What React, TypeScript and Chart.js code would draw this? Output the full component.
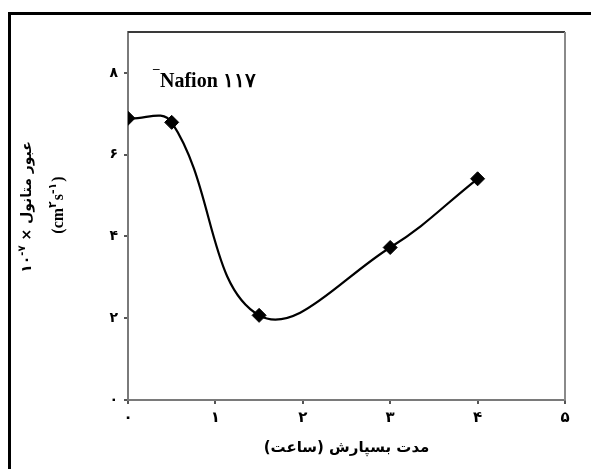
import React, { useEffect, useRef } from 'react';
import { Chart, registerables } from 'chart.js';

Chart.register(...registerables);

// ---- data ----
const hours = [0, 0.5, 1.5, 3, 4];
const permeability = [6.89, 6.79, 2.07, 3.73, 5.41];
const xTickValues = [0, 1, 2, 3, 4, 5];
const xTickLabels = ['۰', '۱', '۲', '۳', '۴', '۵'];
const yTickValues = [0, 2, 4, 6, 8];
const yTickLabels = ['۰', '۲', '۴', '۶', '۸'];
const xTitle = 'مدت بسپارش (ساعت)';
const yTitleWords = 'عبور متانول';
const yTitleTimes = ' × ';
const yTitleBase = '۱۰';
const yTitleExp = '-۷';
const yUnitParts = ['(cm', '۲', 's', '-۱', ')'];
const seriesMark = '¯';
const seriesLabel = 'Nafion ۱۱۷';

const PERSIAN = "'DejaVu Sans', sans-serif";
const SERIF = "'Liberation Serif', 'Times New Roman', serif";

const decorPlugin = {
  id: 'decor',
  afterDraw(chart: any) {
    const { ctx, chartArea } = chart;
    ctx.save();
    // outer frame
    ctx.fillStyle = '#000';
    ctx.fillRect(8, 12, 3, 469);
    ctx.fillRect(8, 12, 583, 3);
    // plot box top & right
    ctx.strokeStyle = '#3a3a3a';
    ctx.lineWidth = 2;
    ctx.beginPath();
    ctx.moveTo(chartArea.left, chartArea.top);
    ctx.lineTo(chartArea.right, chartArea.top);
    ctx.stroke();
    ctx.strokeStyle = '#8a8a8a';
    ctx.beginPath();
    ctx.moveTo(chartArea.right, chartArea.top);
    ctx.lineTo(chartArea.right, chartArea.bottom);
    ctx.stroke();

    // series label
    ctx.fillStyle = '#000';
    ctx.textAlign = 'left';
    ctx.textBaseline = 'alphabetic';
    ctx.font = `bold 13px ${SERIF}`;
    ctx.fillText(seriesMark, 153, 79);
    ctx.font = `bold 20px ${SERIF}`;
    ctx.fillText(seriesLabel, 160, 87);

    // y title line 1
    ctx.save();
    ctx.translate(27, 207);
    ctx.rotate(-Math.PI / 2);
    ctx.textBaseline = 'middle';
    ctx.textAlign = 'left';
    const big = `bold 14px ${PERSIAN}`;
    const small = `bold 10px ${PERSIAN}`;
    ctx.font = big;
    const wBase = ctx.measureText(yTitleBase).width;
    const wTimes = ctx.measureText(yTitleTimes).width;
    const wWords = ctx.measureText(yTitleWords).width;
    ctx.font = small;
    const wExp = ctx.measureText(yTitleExp).width;
    let x = -(wBase + wExp + wTimes + wWords) / 2;
    ctx.font = big;
    ctx.fillText(yTitleBase, x, 0);
    x += wBase;
    ctx.font = small;
    ctx.fillText(yTitleExp, x, -5);
    x += wExp;
    ctx.font = big;
    ctx.fillText(yTitleTimes, x, 0);
    x += wTimes;
    ctx.fillText(yTitleWords, x, 0);
    ctx.restore();

    // y title line 2 (units)
    ctx.save();
    ctx.translate(59, 205);
    ctx.rotate(-Math.PI / 2);
    ctx.textBaseline = 'middle';
    ctx.textAlign = 'left';
    const fonts = [`bold 16px ${SERIF}`, `bold 11px ${PERSIAN}`, `bold 16px ${SERIF}`, `bold 11px ${PERSIAN}`, `bold 16px ${SERIF}`];
    const offs = [0, -6, 0, -6, 0];
    const widths = yUnitParts.map((p, i) => { ctx.font = fonts[i]; return ctx.measureText(p).width + (i === 1 || i === 3 ? 1 : 0); });
    let ux = -widths.reduce((a, b) => a + b, 0) / 2;
    yUnitParts.forEach((p, i) => {
      ctx.font = fonts[i];
      ctx.fillText(p, ux, offs[i]);
      ux += widths[i];
    });
    ctx.restore();

    ctx.restore();
  },
};

export default function App() {
  const ref = useRef<HTMLCanvasElement | null>(null);
  useEffect(() => {
    if (!ref.current) return;
    const chart = new Chart(ref.current, {
      type: 'line',
      data: {
        datasets: [
          {
            label: seriesLabel,
            data: hours.map((h, i) => ({ x: h, y: permeability[i] })),
            borderColor: '#000',
            backgroundColor: '#000',
            borderWidth: 2.2,
            tension: 0.4,
            pointStyle: 'rectRot',
            pointRadius: 7,
            pointBorderWidth: 1,
            pointBackgroundColor: '#000',
            pointBorderColor: '#000',
            fill: false,
          },
        ],
      },
      options: {
        animation: false,
        responsive: false,
        devicePixelRatio: 1,
        layout: { padding: { left: 0, right: 26, top: 32, bottom: 0 } },
        plugins: { legend: { display: false }, tooltip: { enabled: false } },
        scales: {
          x: {
            type: 'linear',
            min: 0,
            max: 5,
            afterBuildTicks: (s: any) => { s.ticks = xTickValues.map((v) => ({ value: v })); },
            afterFit: (s: any) => { s.height = 69; },
            ticks: {
              callback: (_v: any, i: number) => xTickLabels[i],
              font: { family: PERSIAN, size: 15, weight: 'bold' },
              color: '#000',
              padding: 5,
              maxRotation: 0,
            },
            grid: { drawOnChartArea: false, drawTicks: true, tickLength: 4, color: '#555', lineWidth: 2 },
            border: { display: true, color: '#7a7a7a', width: 2 },
            title: {
              display: true,
              text: xTitle,
              color: '#000',
              align: 'center',
              font: { family: PERSIAN, size: 15, weight: 'bold', lineHeight: 1.2 },
              padding: { top: 0, bottom: 12 },
            },
          },
          y: {
            type: 'linear',
            min: 0,
            max: 9,
            afterBuildTicks: (s: any) => { s.ticks = yTickValues.map((v) => ({ value: v })); },
            afterFit: (s: any) => { s.width = 128; },
            ticks: {
              callback: (_v: any, i: number) => yTickLabels[i],
              font: { family: PERSIAN, size: 14, weight: 'bold' },
              color: '#000',
              padding: 6,
            },
            grid: { drawOnChartArea: false, drawTicks: true, tickLength: 4, color: '#555', lineWidth: 2 },
            border: { display: true, color: '#7a7a7a', width: 2 },
          },
        },
      },
      plugins: [decorPlugin],
    });
    return () => chart.destroy();
  }, []);
  return (
    <div style={{ position: 'absolute', left: 0, top: 0, width: 591, height: 469, background: '#fff' }}>
      <canvas ref={ref} width={591} height={469} style={{ display: 'block' }} />
    </div>
  );
}
